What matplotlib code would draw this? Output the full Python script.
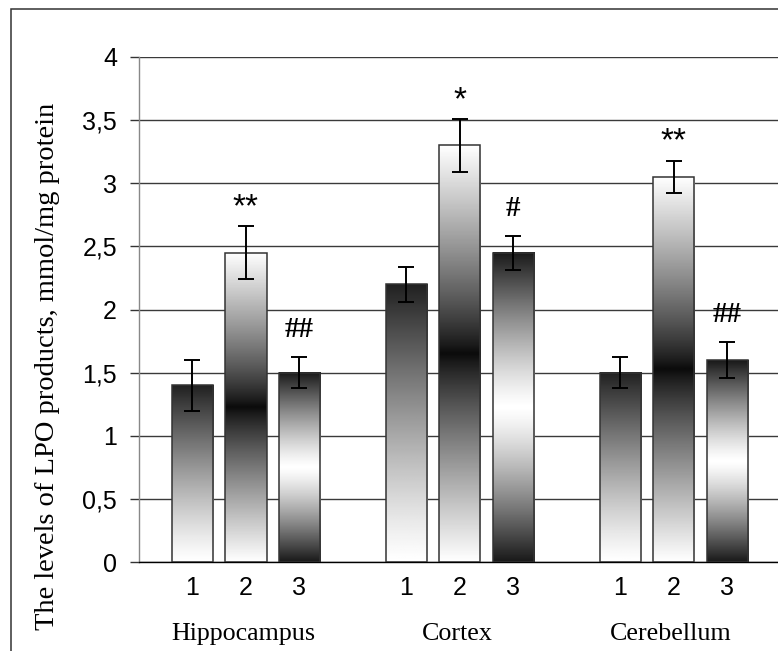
import matplotlib
matplotlib.use('Agg')
import matplotlib.pyplot as plt
import numpy as np
from matplotlib.patches import Rectangle

# ---- data ----
regions = ['Hippocampus', 'Cortex', 'Cerebellum']
group_labels = ['1', '2', '3']

hippocampus = [1.40, 2.45, 1.50]
hippocampus_err = [0.20, 0.21, 0.125]
hippocampus_marks = ['', '**', '##']

cortex = [2.20, 3.30, 2.45]
cortex_err = [0.14, 0.21, 0.135]
cortex_marks = ['', '*', '#']

cerebellum = [1.50, 3.05, 1.60]
cerebellum_err = [0.125, 0.13, 0.14]
cerebellum_marks = ['', '**', '##']

yticks = [0, 0.5, 1, 1.5, 2, 2.5, 3, 3.5, 4]
ytick_labels = ['0', '0,5', '1', '1,5', '2', '2,5', '3', '3,5', '4']
ylabel = 'The levels of LPO products, mmol/mg protein'

# ---- figure ----
W, H = 778, 651
fig = plt.figure(figsize=(W / 100, H / 100), dpi=100)
ax = fig.add_axes([139 / W, 89 / H, 1 - 139 / W, 505 / H])

all_means = [hippocampus, cortex, cerebellum]
all_errs = [hippocampus_err, cortex_err, cerebellum_err]
all_marks = [hippocampus_marks, cortex_marks, cerebellum_marks]

xs, vals, errs, marks, styles, xlabels = [], [], [], [], [], []
for gi in range(len(regions)):
    for si in range(len(group_labels)):
        xs.append(gi * 4 + si)
        vals.append(all_means[gi][si])
        errs.append(all_errs[gi][si])
        marks.append(all_marks[gi][si])
        styles.append(si)
        xlabels.append(group_labels[si])

bars = ax.bar(xs, vals, width=0.77, facecolor='none', edgecolor='#333333',
              linewidth=1.1, zorder=3)

t = np.linspace(0, 1, 256)  # bottom -> top
for bar, style in zip(bars, styles):
    x0, w, h = bar.get_x(), bar.get_width(), bar.get_height()
    if style == 0:
        g = 1 - 0.87 * t ** 1.2
    elif style == 1:
        g = 0.04 + 0.96 * np.abs(2 * t - 1) ** 0.85
    else:
        g = 1 - 0.9 * np.abs(2 * t - 1) ** 1.25
    ax.imshow(g.reshape(-1, 1), extent=[x0, x0 + w, 0, h], origin='lower',
              cmap='gray', vmin=0, vmax=1, aspect='auto',
              interpolation='bilinear', zorder=2)

ax.errorbar(xs, vals, yerr=errs, fmt='none', ecolor='black', elinewidth=1.4,
            capsize=5.5, capthick=1.4, zorder=4)

for x, v, e, m in zip(xs, vals, errs, marks):
    if not m:
        continue
    if '*' in m:
        ax.annotate(m, xy=(x, v + e), xytext=(0, 10), textcoords='offset pixels',
                    ha='center', va='baseline', fontsize=24,
                    family='Liberation Sans', zorder=5)
    else:
        ax.annotate(m, xy=(x, v + e), xytext=(0, 20), textcoords='offset pixels',
                    ha='center', va='baseline', fontsize=21, fontweight='bold',
                    family='Liberation Serif', zorder=5)

# group labels
for gi, name in enumerate(regions):
    ax.annotate(name, xy=(gi * 4 + 1, 0), xytext=(-3, -78),
                textcoords='offset pixels', ha='center', va='baseline',
                fontsize=18.7, family='Liberation Serif', annotation_clip=False)

ax.set_xlim(-1, 10.95)
ax.set_ylim(0, 4)
ax.set_yticks(yticks, ytick_labels, fontsize=18, family='Liberation Sans')
ax.set_xticks(xs, xlabels, fontsize=18, family='Liberation Sans')
ax.tick_params(axis='y', direction='out', length=6.5, width=1.0,
               color='#333333', pad=9.4)
ax.tick_params(axis='x', length=0, pad=10)

ax.yaxis.grid(True, color='#3a3a3a', linewidth=1.0)
ax.set_axisbelow(True)
for s in ['top', 'right']:
    ax.spines[s].set_visible(False)
ax.spines['left'].set_color('#888888')
ax.spines['left'].set_linewidth(1.0)
ax.spines['bottom'].set_color('black')
ax.spines['bottom'].set_linewidth(1.0)

ax.text((54 - 139) / 639, (562 - 366) / 505, ylabel, transform=ax.transAxes,
        rotation=90, rotation_mode='anchor', ha='center', va='baseline',
        fontsize=20.5, family='Liberation Serif')

fig.patches.append(Rectangle((11 / W, -0.5), 2, (H - 9) / H + 0.5,
                             transform=fig.transFigure, fill=False,
                             edgecolor='#333333', linewidth=1.1))

fig.savefig('out.png', dpi=100)
